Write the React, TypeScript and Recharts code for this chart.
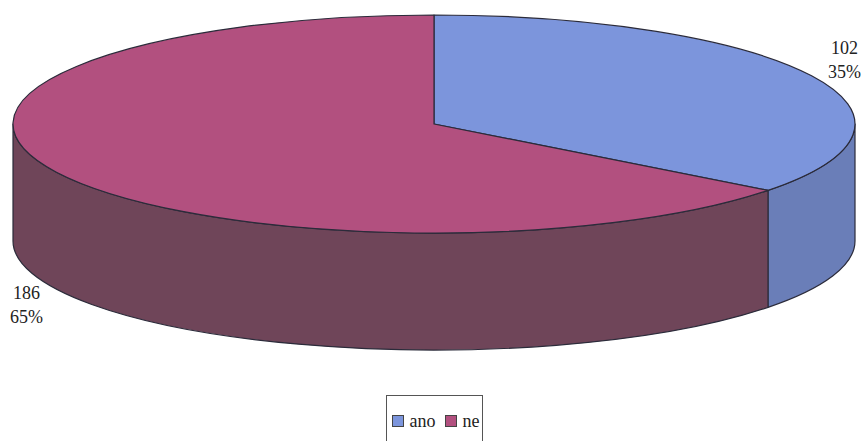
import React from "react";
import { PieChart, Pie, Legend } from "recharts";

const categories = ["ano", "ne"];
const counts = [102, 186];

const TOP_COLORS = ["#7c95dc", "#b2507f"];
const WALL_COLORS = ["#6a7eb8", "#6f4559"];
const EDGE = "#2b2b3a";
const FONT = "'Liberation Serif', 'Times New Roman', serif";

const RADIUS_X = 421;
const RADIUS_Y = 109;
const DEPTH = 117;

// where each value label sits relative to its slice's midpoint on the rim
const LABEL_SHIFT = [
  { dx: 33, dy: -22 },
  { dx: -30, dy: 127 },
];

const chartData = categories.map((name, i) => ({
  name,
  value: counts[i],
  fill: TOP_COLORS[i],
}));

const rad = (deg: number) => (deg * Math.PI) / 180;

function rimPoint(cx: number, cy: number, angle: number) {
  return {
    x: cx + RADIUS_X * Math.cos(rad(angle)),
    y: cy - RADIUS_Y * Math.sin(rad(angle)),
  };
}

// Slice drawn as a flattened ellipse wedge, with a wall under the front part of the rim
function TiltedSlice(props: any) {
  const { cx, cy, startAngle, endAngle, index } = props;
  const from = rimPoint(cx, cy, startAngle);
  const to = rimPoint(cx, cy, endAngle);
  const large = startAngle - endAngle > 180 ? 1 : 0;
  const top = `M${cx},${cy} L${from.x},${from.y} A${RADIUS_X},${RADIUS_Y} 0 ${large} 1 ${to.x},${to.y} Z`;

  const wallStart = Math.min(startAngle, 0);
  const wallEnd = Math.max(endAngle, -180);
  let wall = null;
  if (wallStart > wallEnd) {
    const a = rimPoint(cx, cy, wallStart);
    const b = rimPoint(cx, cy, wallEnd);
    const d =
      `M${a.x},${a.y} A${RADIUS_X},${RADIUS_Y} 0 0 1 ${b.x},${b.y} ` +
      `L${b.x},${b.y + DEPTH} A${RADIUS_X},${RADIUS_Y} 0 0 0 ${a.x},${a.y + DEPTH} Z`;
    wall = <path d={d} fill={WALL_COLORS[index]} stroke={EDGE} strokeWidth={1.2} strokeLinejoin="round" />;
  }

  return (
    <g>
      {wall}
      <path d={top} fill={TOP_COLORS[index]} stroke={EDGE} strokeWidth={1.2} strokeLinejoin="round" />
    </g>
  );
}

function ValueLabel(props: any) {
  const { cx, cy, midAngle, value, percent, index } = props;
  const rim = rimPoint(cx, cy, midAngle);
  const x = rim.x + LABEL_SHIFT[index].dx;
  const y = rim.y + LABEL_SHIFT[index].dy;
  return (
    <text x={x} y={y} textAnchor="middle" fontFamily={FONT} fontSize={18} fill="#222">
      <tspan x={x}>{value}</tspan>
      <tspan x={x} dy={24}>{`${Math.round(percent * 100)}%`}</tspan>
    </text>
  );
}

// Legend frame runs off the bottom of the page, so it has no lower border
function LegendBox({ payload }: any) {
  return (
    <div
      style={{
        display: "flex",
        alignItems: "flex-start",
        boxSizing: "border-box",
        width: 97,
        height: 46,
        paddingLeft: 4.5,
        paddingTop: 14.5,
        border: "1.5px solid #555",
        borderBottom: "none",
        background: "#fff",
        fontFamily: FONT,
        fontSize: 18,
        color: "#222",
      }}
    >
      {(payload || []).map((item: any, i: number) => (
        <span key={item.value} style={{ display: "flex", alignItems: "center", marginRight: i === 0 ? 9 : 0 }}>
          <span
            style={{
              display: "inline-block",
              boxSizing: "border-box",
              width: 12,
              height: 12,
              marginRight: 6,
              background: TOP_COLORS[i],
              border: "1px solid #444",
            }}
          />
          {item.value}
        </span>
      ))}
    </div>
  );
}

export default function App() {
  return (
    <div style={{ position: "absolute", left: 0, top: 0, background: "#fff" }}>
      <PieChart width={863} height={441} margin={{ top: 0, right: 0, bottom: 0, left: 0 }}>
        <Pie
          data={chartData}
          dataKey="value"
          nameKey="name"
          cx={434}
          cy={124}
          outerRadius={RADIUS_X}
          startAngle={90}
          endAngle={-270}
          stroke="none"
          shape={TiltedSlice}
          label={ValueLabel}
          labelLine={false}
          isAnimationActive={false}
        />
        <Legend
          content={LegendBox}
          wrapperStyle={{ position: "absolute", left: 386, top: 395, width: 97, bottom: "auto" }}
        />
      </PieChart>
    </div>
  );
}
